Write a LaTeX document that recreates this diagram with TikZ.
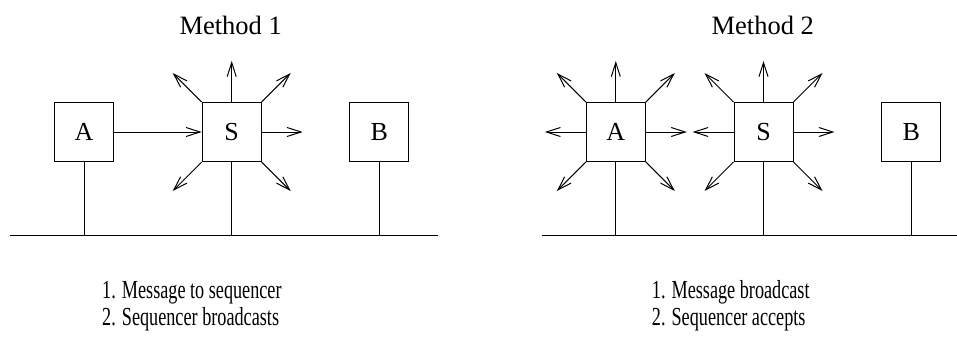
\documentclass[tikz,border=0pt]{standalone}
\usepackage{fontspec}
\setmainfont{Liberation Serif}
\usetikzlibrary{arrows.meta}
\usetikzlibrary{positioning}

\begin{document}
\begin{tikzpicture}[x=1pt,y=-1pt,node distance=147.7pt,
  box/.style={draw,line width=1pt,minimum size=59pt,inner sep=0pt,font=\fontsize{26}{31}\selectfont},
  ray/.style={line width=1pt,-{Straight Barb[length=14pt,width=9pt,line width=1pt]}},
  wire/.style={line width=1pt},
  heading/.style={anchor=base,inner sep=0pt,font=\fontsize{26.5}{31}\selectfont},
  note/.style={anchor=base west,inner sep=0pt,font=\fontsize{26}{31}\selectfont}]
  \useasboundingbox (0,0) rectangle (957,348);

  \node[box] (A1) at (84,132) {A};
  \node[box,right of=A1] (S1) {S};
  \node[box,right of=S1] (B1) {B};

  \node[box] (A2) at (615.8,132) {A};
  \node[box,right of=A2] (S2) {S};
  \node[box,right of=S2] (B2) {B};

  \node[heading] (title1) at (230.7,34.3) {Method 1};
  \node[heading] (title2) at (762.8,34.3) {Method 2};

  \coordinate (bus1w) at (10,235.3);
  \coordinate (bus1e) at (438,235.3);
  \coordinate (bus2w) at (541.7,235.3);
  \coordinate (bus2e) at (957,235.3);
  \draw[wire] (bus1w) -- (bus1e);
  \draw[wire] (bus2w) -- (bus2e);
  \foreach \n in {A1,S1,B1,A2,S2,B2}
    \draw[wire] (\n.south) -- (\n.south |- bus1w);

  \draw[ray] (A1) -- (S1);
  \foreach \n/\dirs in {S1/{0,45,90,135,225,315},A2/{0,45,90,135,180,225,315},S2/{0,45,90,135,180,225,315}}
    \foreach \a in \dirs {
      \path (\n.\a) ++(\a:41pt) coordinate (\n-\a);
      \draw[ray] (\n.\a) -- (\n-\a);
    }

  \node[note] (step1a) at (102,298) {\scalebox{0.7}[1]{1. Message to sequencer}};
  \node[note] (step1b) at (102,325.5) {\scalebox{0.7}[1]{2. Sequencer broadcasts}};
  \node[note] (step2a) at (651.7,298) {\scalebox{0.7}[1]{1. Message broadcast}};
  \node[note] (step2b) at (651.7,325.5) {\scalebox{0.7}[1]{2. Sequencer accepts}};
\end{tikzpicture}
\end{document}
